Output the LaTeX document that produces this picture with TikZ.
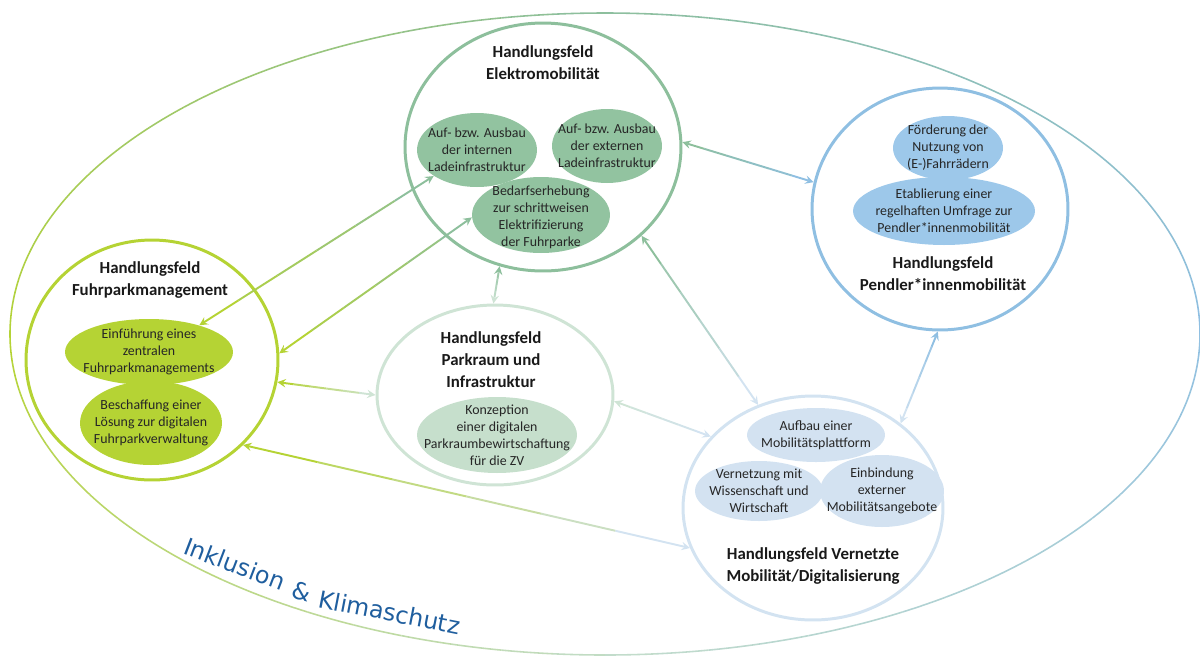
\documentclass[tikz,border=0pt]{standalone}
\usepackage{fontspec}
\setmainfont{Carlito}
\newfontfamily\ikfont{DejaVu Sans}
\usetikzlibrary{shapes.geometric,calc}

\definecolor{emgreen}{HTML}{8DBF9C}
\definecolor{emfill}{HTML}{92C3A0}
\definecolor{fplime}{HTML}{B5D334}
\definecolor{pmblue}{HTML}{8FBFE2}
\definecolor{pmfill}{HTML}{9DC8EA}
\definecolor{prgreen}{HTML}{CFE4D5}
\definecolor{prfill}{HTML}{C6DFCC}
\definecolor{vmblue}{HTML}{D3E3F1}
\definecolor{vmfill}{HTML}{D3E2F1}
\definecolor{ringgrey}{HTML}{C2DCCB}
\definecolor{ikblue}{HTML}{1F5E9E}

\tikzset{
  field/.style={ellipse,line width=1.7pt,inner sep=0pt},
  blob/.style={ellipse,inner sep=0pt},
  fieldtitle/.style={font=\fontsize{9.6}{12.5}\selectfont\bfseries,align=center,text=black!90},
  blobtext/.style={font=\fontsize{7.9}{9.6}\selectfont,align=center,text=black!85},
  ringtext/.style={font=\ikfont\fontsize{13.5}{14}\selectfont,text=ikblue,anchor=base west,inner sep=0pt},
  linkline/.style={line width=1.1pt,>=stealth},
}

% double arrow whose colour runs from #3 to #4
\newcommand\arrowlink[4]{%
  \draw[linkline,<-,#3] (#1) -- ($(#1)!1/6!(#2)$);
  \foreach \t in {1,...,4}{%
    \pgfmathsetmacro\s{\t/6}\pgfmathsetmacro\e{(\t+1)/6}%
    \pgfmathtruncatemacro\m{100-(\t+0.5)*100/6}%
    \draw[linkline,#3!\m!#4] ($(#1)!\s!(#2)$) -- ($(#1)!\e!(#2)$);
  }
  \draw[linkline,->,#4] ($(#1)!5/6!(#2)$) -- (#2);
}

\begin{document}
\begin{tikzpicture}[x=0.02cm,y=0.02cm]
\useasboundingbox (0,0) rectangle (1200,-657);

% outer ring, coloured by quadrant
\foreach \a in {0,5,...,355}{
  \pgfmathtruncatemacro\k{\a/90}
  \pgfmathtruncatemacro\q{100-mod(\a,90)/90*100}
  \ifcase\k \colorlet{seg}{pmblue!\q!emgreen}\or
    \colorlet{seg}{emgreen!\q!fplime}\or
    \colorlet{seg}{fplime!\q!ringgrey}\or
    \colorlet{seg}{ringgrey!\q!pmblue}\fi
  \draw[seg,line width=0.9pt] (605,-334) ++(\a:595 and 321)
    arc[start angle=\a,end angle=\a+5,x radius=595,y radius=321];
}

\node[ringtext,rotate=-21] (ink1) at (182,-553) {Inklusion};
\node[ringtext,rotate=-15] (ink2) at (290,-597) {\&};
\node[ringtext,rotate=-11] (ink3) at (317,-607) {Klimaschutz};

% Handlungsfelder
\node[field,draw=emgreen,minimum width=5.52cm,minimum height=4.96cm] (elektro) at (543,-147) {};
\node[field,draw=fplime,minimum width=5.04cm,minimum height=4.8cm] (fuhrpark) at (152,-360) {};
\node[field,draw=pmblue,minimum width=5.12cm,minimum height=4.84cm] (pendler) at (940,-209) {};
\node[field,draw=prgreen,minimum width=4.72cm,minimum height=3.6cm] (parkraum) at (495,-395) {};
\node[field,draw=vmblue,minimum width=5.2cm,minimum height=4.48cm] (vernetzt) at (813,-508) {};

\node[blob,fill=emfill,minimum width=2.4cm,minimum height=1.48cm] (intern) at (477,-150) {};
\node[blob,fill=emfill,minimum width=2.2cm,minimum height=1.48cm] (extern) at (607,-146) {};
\node[blob,fill=emfill,minimum width=2.76cm,minimum height=1.52cm] (bedarf) at (541,-215) {};
\node[blob,fill=fplime,minimum width=3.36cm,minimum height=1.32cm] (einf) at (149,-352) {};
\node[blob,fill=fplime,minimum width=2.84cm,minimum height=1.68cm] (besch) at (151,-423) {};
\node[blob,fill=pmfill,minimum width=2.2cm,minimum height=1.28cm] (foerd) at (948,-148) {};
\node[blob,fill=pmfill,minimum width=3.64cm,minimum height=1.36cm] (etab) at (944,-211) {};
\node[blob,fill=prfill,minimum width=3.2cm,minimum height=1.52cm] (konz) at (497,-435) {};
\node[blob,fill=vmfill,minimum width=2.76cm,minimum height=1.08cm] (aufbau) at (816,-435) {};
\node[blob,fill=vmfill,minimum width=2.56cm,minimum height=1.2cm] (vernetz) at (759,-491) {};
\node[blob,fill=vmfill,minimum width=2.48cm,minimum height=1.44cm] (einbind) at (882,-491) {};

\node[fieldtitle] (emtitle) at (543,-63) {Handlungsfeld\\Elektromobilität};
\node[fieldtitle] (fptitle) at (150,-280) {Handlungsfeld\\Fuhrparkmanagement};
\node[fieldtitle] (pmtitle) at (943,-274) {Handlungsfeld\\Pendler*innenmobilität};
\node[fieldtitle] (prtitle) at (491,-360) {Handlungsfeld\\Parkraum und\\Infrastruktur};
\node[fieldtitle] (vmtitle) at (813,-566) {Handlungsfeld Vernetzte\\Mobilität/Digitalisierung};

\node[blobtext] at (intern) {Auf- bzw. Ausbau\\der internen\\Ladeinfrastruktur};
\node[blobtext] at (extern) {Auf- bzw. Ausbau\\der externen\\Ladeinfrastruktur};
\node[blobtext] at (541,-217) {Bedarfserhebung\\zur schrittweisen\\Elektrifizierung\\der Fuhrparke};
\node[blobtext] at (einf) {Einführung eines\\zentralen\\Fuhrparkmanagements};
\node[blobtext] at (besch) {Beschaffung einer\\Lösung zur digitalen\\Fuhrparkverwaltung};
\node[blobtext] at (foerd) {Förderung der\\Nutzung von\\(E-)Fahrrädern};
\node[blobtext] at (etab) {Etablierung einer\\regelhaften Umfrage zur\\Pendler*innenmobilität};
\node[blobtext] at (konz) {Konzeption\\einer digitalen\\Parkraumbewirtschaftung\\für die ZV};
\node[blobtext] at (aufbau) {Aufbau einer\\Mobilitätsplattform};
\node[blobtext] at (vernetz) {Vernetzung mit\\Wissenschaft und\\Wirtschaft};
\node[blobtext] at (einbind) {Einbindung\\externer\\Mobilitätsangebote};

% Verbindungen
\arrowlink{intern.211}{einf.28}{emgreen}{fplime}
\arrowlink{bedarf.182}{fuhrpark.3}{emgreen}{fplime}
\arrowlink{elektro.-110}{parkraum.91}{emgreen}{prgreen}
\arrowlink{fuhrpark.-10}{parkraum.180}{fplime}{prgreen}
\arrowlink{fuhrpark.-43}{vernetzt.198}{fplime}{vmblue}
\arrowlink{parkraum.-3}{vernetzt.145}{prgreen}{vmblue}
\arrowlink{elektro.-42}{vernetzt.118}{emgreen}{vmblue}
\arrowlink{elektro.2}{pendler.168}{emgreen}{pmblue}
\arrowlink{vernetzt.44}{pendler.-91}{vmblue}{pmblue}
\end{tikzpicture}
\end{document}
